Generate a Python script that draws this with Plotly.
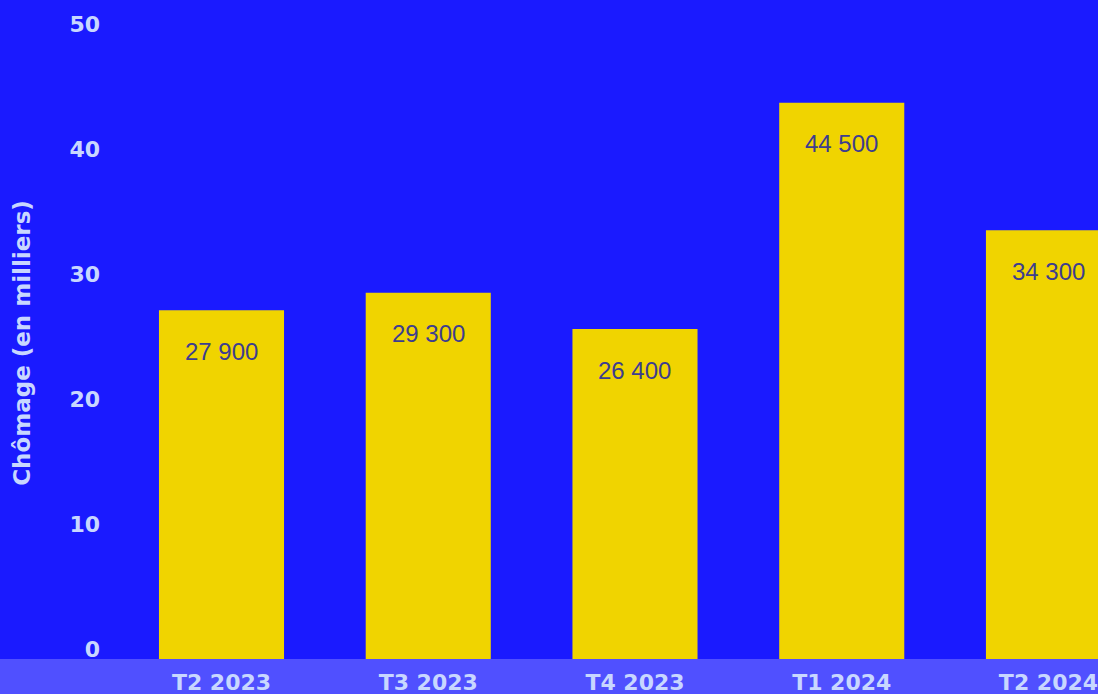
import plotly.graph_objects as go

categories = ["T2 2023", "T3 2023", "T4 2023", "T1 2024", "T2 2024"]
values = [27.9, 29.3, 26.4, 44.5, 34.3]
value_labels = ["27 900", "29 300", "26 400", "44 500", "34 300"]
y_ticks = [0, 10, 20, 30, 40, 50]

BG = "#1a1aff"
STRIP = "#5050ff"
BAR = "#f0d400"
LABEL = "#c8d7ff"
INTEXT = "#3d3d8f"
BOLD_FONT = "DejaVu Sans"

fig = go.Figure()
fig.add_trace(go.Bar(
    x=categories, y=values,
    marker=dict(color=BAR, line=dict(width=0)),
    hoverinfo="skip",
))

for c, v, t in zip(categories, values, value_labels):
    fig.add_annotation(x=c, y=v, text=t, showarrow=False, yanchor="middle",
                       yshift=-41, font=dict(family="Liberation Sans, Arial", size=24, color=INTEXT))

fig.add_shape(type="rect", xref="paper", yref="paper", x0=-0.2, x1=1.05, y0=-0.2, y1=0,
              fillcolor=STRIP, line=dict(width=0), layer="below")

fig.update_layout(
    width=1098, height=694,
    margin=dict(l=105, r=0, t=27, b=35),
    paper_bgcolor=BG, plot_bgcolor=BG,
    bargap=0.395,
    showlegend=False,
    font=dict(family="Liberation Sans, Arial"),
    xaxis=dict(
        range=[-0.5635, 4.2395],
        showgrid=False, zeroline=False, showline=False, ticks="",
        tickfont=dict(family=BOLD_FONT, size=22, color=LABEL, weight="bold"),
        ticklabelstandoff=8,
    ),
    yaxis=dict(
        range=[0, 50.56],
        tickvals=y_ticks,
        showgrid=False, zeroline=False, showline=False, ticks="",
        tickfont=dict(family=BOLD_FONT, size=22, color=LABEL, weight="bold"),
        ticklabelshift=-10,
        ticklabelstandoff=4,
        title=dict(text="Chômage (en milliers)",
                   font=dict(family=BOLD_FONT, size=23, color=LABEL, weight="bold"), standoff=32),
    ),
)

fig.write_html("out.html", config={"displayModeBar": False},
               post_script="document.body.style.margin='0';document.body.style.overflow='hidden';")
